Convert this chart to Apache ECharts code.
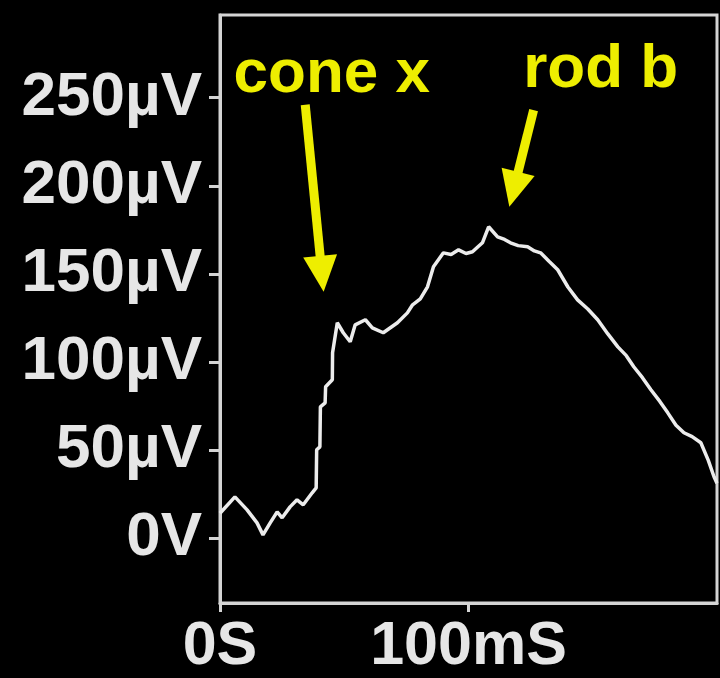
<!DOCTYPE html>
<html>
<head>
<meta charset="utf-8">
<script src="https://cdn.jsdelivr.net/npm/echarts@6/dist/echarts.min.js"></script>
<style>
  html, body { margin: 0; padding: 0; background: #000; }
  #chart { width: 720px; height: 678px; }
</style>
</head>
<body>
<div id="chart"></div>
<script>
// ERG trace: time (ms) and response amplitude (µV)
const timeMs = [0, 6.0, 10.9, 14.9, 17.3, 20.2, 23.0, 25.0, 28.2, 31.0, 33.5, 37.1, 38.7,
  38.9, 40.2, 40.4, 42.3, 42.5, 45.2, 45.3, 47.2, 49.6, 52.4, 54.4, 58.5, 61.3, 65.7,
  71.4, 75.4, 77.5, 80.6, 83.5, 85.9, 89.9, 93.0, 96.0, 99.0, 101.6, 105.6, 108.1,
  111.7, 114.5, 116.9, 120.0, 123.8, 126.5, 129.0, 132.5, 135.9, 140.0, 143.9, 148.0,
  152.0, 156.0, 160.1, 163.5, 166.5, 170.0, 173.4, 177.0, 180.2, 183.5, 186.7, 190.0,
  193.5, 196.5, 198.8, 200];
const voltageUv = [14, 23.3, 15.9, 8.5, 1.7, 8.5, 14.8, 11.4, 17.6, 21.6, 18.8, 25.6, 28.4,
  50.0, 51.7, 74.4, 76.7, 85.8, 89.8, 105.1, 122.2, 116.5, 111.4, 121.0, 123.9, 119.3, 116.5,
  122.2, 127.8, 132.4, 135.8, 142.6, 154.0, 161.9, 161.0, 163.6, 161.5, 162.5, 167.6, 176.7,
  171.0, 169.5, 167.6, 166.0, 165.3, 163.0, 161.9, 157.0, 152.3, 142.5, 135.2, 130.0,
  123.9, 116.0, 108.5, 103.5, 97.2, 91.0, 84.1, 77.5, 71.0, 64.0, 59.7, 57.5,
  54.0, 44.0, 34.7, 31.0];

const yTickValues = [0, 50, 100, 150, 200, 250];
const xTickValues = [0, 100];
const xTickText = { 0: '0S', 100: '100mS' };

// Annotation labels and arrows, in data units [ms, µV]
const notes = [
  { text: 'cone x', at: [45.0, 263], from: [34.3, 246], to: [41.0, 150] },
  { text: 'rod b',  at: [153.2, 266], from: [126.2, 243], to: [118.2, 198] }
];

const series = timeMs.map((t, i) => [t, voltageUv[i]]);
const axisColor = '#d4d4d4';
const textColor = '#e6e6e6';
const yellow = '#eeee00';
const font = '"Liberation Sans", Arial, sans-serif';

const chart = echarts.init(document.getElementById('chart'), null, { renderer: 'canvas' });
chart.setOption({
  backgroundColor: '#000',
  animation: false,
  grid: {
    left: 220, right: 3, top: 15, bottom: 75,
    show: true, borderColor: axisColor, borderWidth: 3, backgroundColor: 'transparent'
  },
  xAxis: {
    type: 'value', min: 0, max: 200,
    axisLine: { show: true, onZero: false, lineStyle: { color: axisColor, width: 3 } },
    axisTick: { show: true, length: 9, customValues: xTickValues, lineStyle: { color: axisColor, width: 3 } },
    axisLabel: {
      customValues: xTickValues,
      formatter: v => xTickText[v] || '',
      color: textColor, fontSize: 61, fontWeight: 'bold', fontFamily: font, margin: 14
    },
    splitLine: { show: false }
  },
  yAxis: {
    type: 'value', min: -37, max: 297,
    axisLine: { show: true, onZero: false, lineStyle: { color: axisColor, width: 3 } },
    axisTick: { show: true, length: 11, customValues: yTickValues, lineStyle: { color: axisColor, width: 3 } },
    axisLabel: {
      customValues: yTickValues,
      formatter: v => (v === 0 ? '0V' : v + 'µV'),
      color: textColor, fontSize: 62, fontWeight: 'bold', fontFamily: font, margin: 18
    },
    splitLine: { show: false }
  },
  series: [{
    name: 'ERG',
    type: 'line',
    data: series,
    symbol: 'none',
    lineStyle: { color: '#ececec', width: 3.5 },
    markLine: {
      silent: true,
      symbol: ['none', 'triangle'],
      symbolSize: [34, 36],
      lineStyle: { color: yellow, width: 9, type: 'solid' },
      label: { show: false },
      data: notes.map(n => [{ coord: n.from }, { coord: n.to }])
    },
    markPoint: {
      silent: true,
      symbolSize: 0,
      label: {
        show: true, position: 'inside',
        color: yellow, fontSize: 62, fontWeight: 'bold', fontFamily: font
      },
      data: notes.map(n => ({ coord: n.at, value: n.text, label: { formatter: n.text } }))
    }
  }]
});
</script>
</body>
</html>
